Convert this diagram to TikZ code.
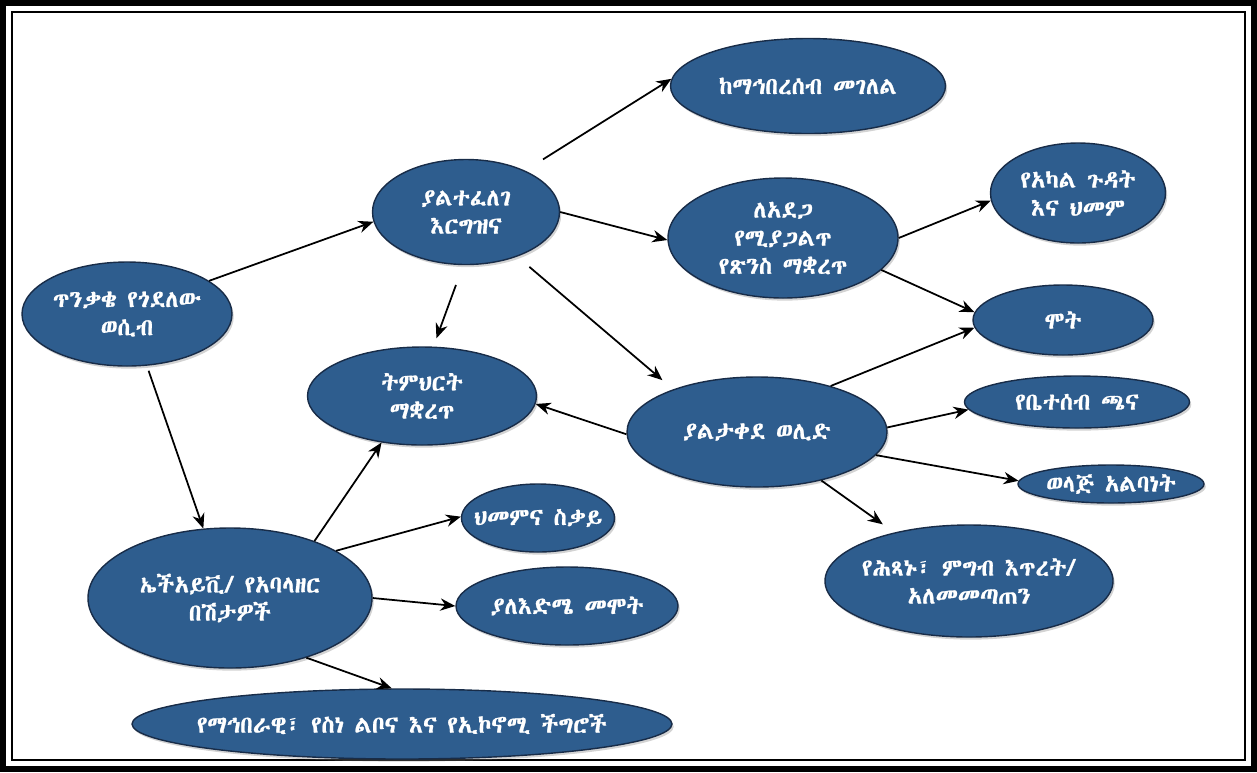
\documentclass[tikz,border=0pt]{standalone}
\usepackage{fontspec}
\IfFontExistsTF{Abyssinica SIL}
  {\newfontfamily\ethfont[FakeBold=1]{Abyssinica SIL}}
  {\IfFontExistsTF{FreeSerif}
    {\newfontfamily\ethfont[FakeBold=1]{FreeSerif}}
    {\IfFontExistsTF{Noto Sans Ethiopic}
      {\newfontfamily\ethfont{Noto Sans Ethiopic}}
      {\newfontfamily\ethfont{DejaVu Sans}}}}
\usetikzlibrary{arrows.meta,shapes.geometric,shadows}
\definecolor{bubblefill}{RGB}{46,93,142}
\definecolor{bubbleline}{RGB}{24,44,72}

\begin{document}
\begin{tikzpicture}[x=0.02cm,y=-0.02cm,->,>={Stealth[length=8.5pt,width=7pt]},line width=1pt,
  bubble/.style={ellipse,draw=bubbleline,line width=0.8pt,fill=bubblefill,text=white,
    align=center,inner xsep=-40pt,inner ysep=-8pt,font=\ethfont\fontsize{13.5}{16}\selectfont,
    drop shadow={opacity=0.35,shadow xshift=1pt,shadow yshift=-1.5pt}},
  sz/.style 2 args={minimum width=#1*0.02cm,minimum height=#2*0.02cm}]

  \useasboundingbox (0,0) rectangle (1257,772);
  \draw[-,line width=3.4pt] (3,3) rectangle (1254,769);
  \draw[-,line width=1pt] (12,12) rectangle (1245,760);

  \node[bubble,sz={210}{104}] (A) at (127,314) {ጥንቃቄ የጎደለው\\ወሲብ};
  \node[bubble,sz={187}{105}] (B) at (466,212) {ያልተፈለገ\\እርግዝና};
  \node[bubble,sz={275}{95}]  (C) at (808,86)  {ከማኅበረሰብ መገለል};
  \node[bubble,sz={230}{120}] (D) at (783,238) {ለአደጋ\\የሚያጋልጥ\\የጽንስ ማቋረጥ};
  \node[bubble,sz={175}{100}] (E) at (1078,193) {የአካል ጉዳት\\እና ህመም};
  \node[bubble,sz={180}{70}]  (F) at (1063,320) {ሞት};
  \node[bubble,sz={229}{98}]  (G) at (422,396) {ትምህርት\\ማቋረጥ};
  \node[bubble,sz={260}{110}] (H) at (757,432) {ያልታቀደ ወሊድ};
  \node[bubble,sz={225}{52}]  (I) at (1077,402) {የቤተሰብ ጫና};
  \node[bubble,sz={186}{38}]  (J) at (1111,484) {ወላጅ አልባነት};
  \node[bubble,sz={288}{112}] (K) at (969,581) {የሕጻኑ፣ ምግብ እጥረት/\\አለመመጣጠን};
  \node[bubble,sz={284}{140}] (L) at (230,598) {ኤችአይቪ/ የአባላዘር\\በሽታዎች};
  \node[bubble,sz={153}{68}]  (M) at (538,518) {ህመምና ስቃይ};
  \node[bubble,sz={222}{78}]  (N) at (567,606) {ያለእድሜ መሞት};
  \node[bubble,sz={540}{70}]  (O) at (402,724) {የማኅበራዊ፣ የስነ ልቦና እና የኢኮኖሚ ችግሮች};

  \path (A.22)  edge (B.186)
        (A.291) edge [shorten <=3pt] (L.111)
        (B.35)  edge [shorten <=12pt] (C.177)
        (B.0)   edge (D.181)
        (B.267) edge [shorten <=12pt,shorten >=5pt] (G.77)
        (B.319) edge [shorten <=9pt,shorten >=8pt] (H.153)
        (D.0)   edge (E.185)
        (D.342) edge (F.175)
        (H.32)  edge (F.185)
        (H.2)   edge (I.184)
        (H.349) edge (J.178)
        (H.323) edge [shorten >=8pt] (K.147)
        (H.181) edge (G.356)
        (L.34)  edge (G.229)
        (L.24)  edge (M.179)
        (L.0)   edge (N.180)
        (L.322) edge (O.106);
\end{tikzpicture}
\end{document}
